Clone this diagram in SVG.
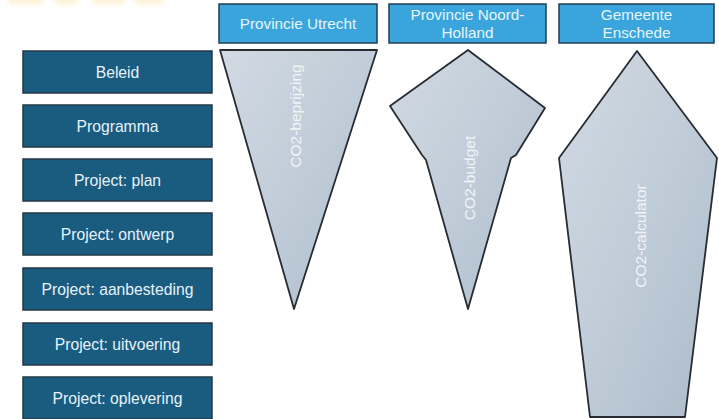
<svg xmlns="http://www.w3.org/2000/svg" width="719" height="419" viewBox="0 0 719 419">
<defs>
<linearGradient id="g" x1="0" y1="0" x2="1" y2="1">
<stop offset="0" stop-color="#d2dae3"/>
<stop offset="0.5" stop-color="#c0ccd8"/>
<stop offset="1" stop-color="#adbccb"/>
</linearGradient>
<filter id="blur" x="-20%" y="-50%" width="140%" height="200%"><feGaussianBlur stdDeviation="2"/></filter>
<style>
.phase rect{fill:#1a5b80;stroke:#243744;stroke-width:1.5}
.hdr rect{fill:#39a5dc;stroke:#213d50;stroke-width:1.5}
.t{font-family:"Liberation Sans",Arial,sans-serif;font-size:15.7px;fill:#e6f3fa;text-anchor:middle}
.h{font-family:"Liberation Sans",Arial,sans-serif;font-size:15.3px;fill:#e6f5fc;text-anchor:middle}
.shape{fill:url(#g);stroke:#262c32;stroke-width:1.8;stroke-linejoin:round}
.r{font-family:"Liberation Sans",Arial,sans-serif;font-size:15.5px;fill:#f2f5f8;text-anchor:middle}
</style>
</defs>
<rect width="719" height="419" fill="#ffffff"/>
<g id="title-remnant" filter="url(#blur)" fill="#fde6b0" opacity="0.45">
<rect x="8" y="-4" width="35" height="9" rx="4"/>
<rect x="55" y="-4" width="23" height="9" rx="4"/>
<rect x="92" y="-4" width="33" height="9" rx="4"/>
<rect x="135" y="-4" width="28" height="9" rx="4"/>
</g>
<g id="phase-beleid" class="phase"><rect x="23" y="51" width="189" height="42"/><text class="t" x="117.5" y="77.5">Beleid</text></g>
<g id="phase-programma" class="phase"><rect x="23" y="105" width="189" height="42"/><text class="t" x="117.5" y="131.5">Programma</text></g>
<g id="phase-plan" class="phase"><rect x="23" y="159" width="189" height="42"/><text class="t" x="117.5" y="185.5">Project: plan</text></g>
<g id="phase-ontwerp" class="phase"><rect x="23" y="213" width="189" height="42"/><text class="t" x="117.5" y="239.5">Project: ontwerp</text></g>
<g id="phase-aanbesteding" class="phase"><rect x="23" y="268" width="189" height="42"/><text class="t" x="117.5" y="294.5">Project: aanbesteding</text></g>
<g id="phase-uitvoering" class="phase"><rect x="23" y="323" width="189" height="42"/><text class="t" x="117.5" y="349.5">Project: uitvoering</text></g>
<g id="phase-oplevering" class="phase"><rect x="23" y="377" width="189" height="42"/><text class="t" x="117.5" y="403.5">Project: oplevering</text></g>
<g id="hdr-utrecht" class="hdr"><rect x="219" y="4" width="158" height="39"/><text class="h" x="298" y="29">Provincie Utrecht</text></g>
<g id="hdr-noordholland" class="hdr"><rect x="389" y="4" width="157" height="39"/><text class="h" x="467.5" y="20">Provincie Noord-</text><text class="h" x="467.5" y="37.5">Holland</text></g>
<g id="hdr-enschede" class="hdr"><rect x="559" y="4" width="155" height="39"/><text class="h" x="636.5" y="20">Gemeente</text><text class="h" x="636.5" y="37.5">Enschede</text></g>
<g id="shape-beprijzing"><polygon class="shape" points="220,50 377,50 294,309"/><text class="r" transform="translate(301,116) rotate(-90)">CO2-beprijzing</text></g>
<g id="shape-budget"><polygon class="shape" points="468,50 545,108 516,155 511,158 468,309 426,160 422,155 390,106"/><text class="r" transform="translate(474.5,178) rotate(-90)">CO2-budget</text></g>
<g id="shape-calculator"><polygon class="shape" points="637,51 717,158 685,417 590,417 559,158"/><text class="r" transform="translate(645.5,236) rotate(-90)">CO2-calculator</text></g>
<g id="connectors"></g>
</svg>
